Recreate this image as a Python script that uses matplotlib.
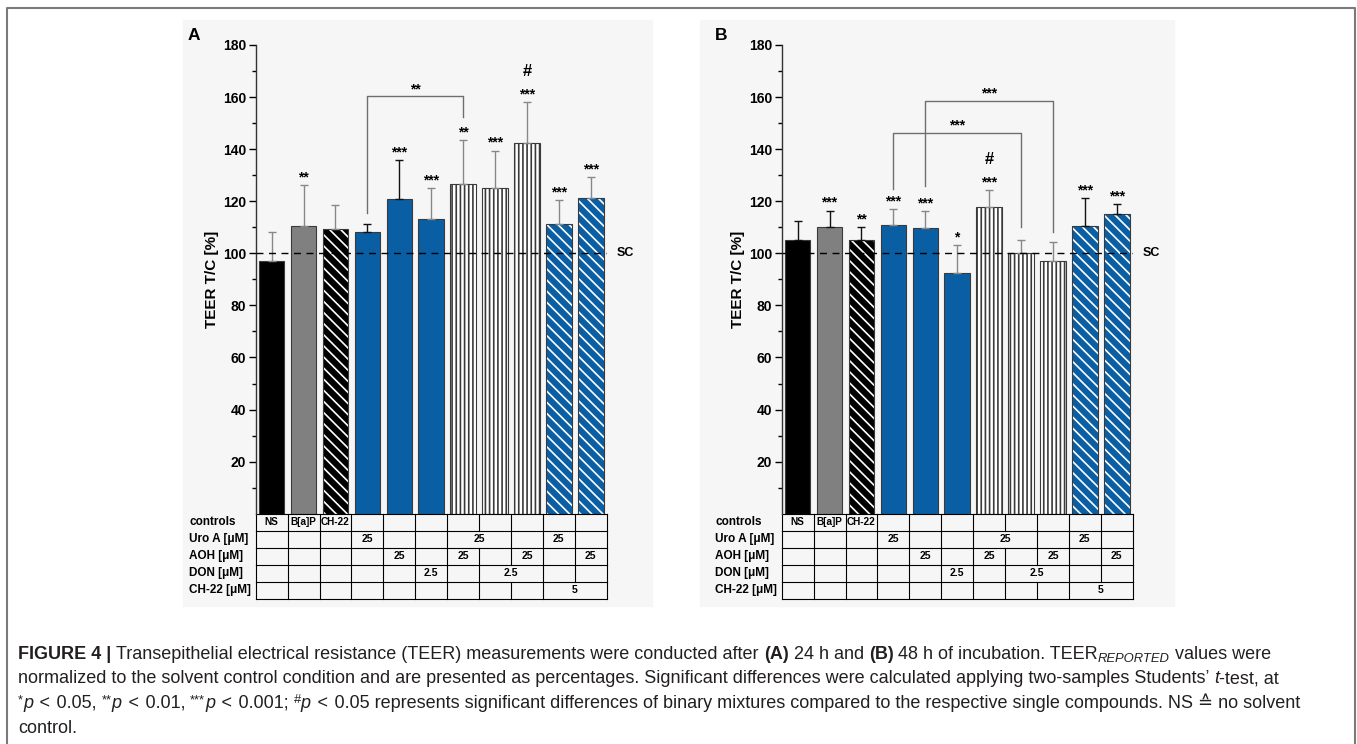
import matplotlib
matplotlib.use('agg')
from matplotlib import pyplot as plt
from matplotlib.patches import Rectangle
from matplotlib.lines import Line2D
from matplotlib.font_manager import FontProperties
import numpy as np

plt.rcParams['font.family'] = ['Liberation Sans', 'DejaVu Sans']
plt.rcParams['hatch.linewidth'] = 1.2

# ---- data ----
groups = ['NS', 'B[a]P', 'CH-22', 'Uro A', 'AOH', 'DON',
          'Uro A + AOH', 'Uro A + DON', 'AOH + DON', 'Uro A + CH-22', 'AOH + CH-22']

# (A) 24 h
teer_a = [97.0, 110.3, 109.3, 108.0, 121.0, 113.0, 126.7, 125.0, 142.2, 111.3, 121.3]
sd_a = [11.2, 15.9, 9.2, 3.4, 14.8, 12.0, 16.7, 14.4, 15.8, 9.1, 8.0]
stars_a = ['', '**', '', '', '***', '***', '**', '***', '***', '***', '***']
hash_a = [8]
# (x_from, x_to, y_from, y_to, y_top, label)
brackets_a = [(3, 6, 115.4, 152.4, 160.3, '**')]

# (B) 48 h
teer_b = [105.2, 110.0, 105.0, 111.0, 109.6, 92.6, 117.9, 100.2, 96.9, 110.6, 115.0]
sd_b = [7.3, 6.4, 5.0, 5.9, 6.6, 10.6, 6.3, 4.9, 7.3, 10.5, 3.8]
stars_b = ['', '***', '**', '***', '***', '*', '***', '', '', '***', '***']
hash_b = [6]
brackets_b = [(3, 7, 124.7, 110.0, 146.3, '***'),
              (4, 8, 126.0, 108.3, 158.6, '***')]

# table under the bars
row_names = ['controls', 'Uro A [μM]', 'AOH [μM]', 'DON [μM]', 'CH-22 [μM]']
# merged cells: (first column, last column, text)
row_cells = [
    [(0, 0, 'NS'), (1, 1, 'B[a]P'), (2, 2, 'CH-22')],
    [(3, 3, '25'), (6, 7, '25'), (9, 9, '25')],
    [(4, 4, '25'), (6, 6, '25'), (8, 8, '25'), (10, 10, '25')],
    [(5, 5, '2.5'), (7, 8, '2.5')],
    [(9, 10, '5')],
]

# ---- styles ----
W, H = 1357, 744
BLUE = '#0a5fa4'
bar_face = ['black', '#808080', 'black', BLUE, BLUE, BLUE,
            'white', 'white', 'white', BLUE, BLUE]
bar_hatch = [None, None, '\\\\\\', None, None, None,
             '||||', '||||', '||||', '\\\\\\', '\\\\\\']
err_dark_a = [3, 4]
err_dark_b = [0, 1, 2, 9, 10]


def fig_xy(x, y):
    return x / W, 1 - y / H


fig = plt.figure(figsize=(W / 100, H / 100), dpi=100)

# faint grey background behind each panel, and the outer frame
for x0, x1 in [(183, 652), (700, 1174)]:
    fig.patches.append(Rectangle(fig_xy(x0, 606), (x1 - x0) / W, (606 - 20) / H,
                                 transform=fig.transFigure, color='#f6f6f6', zorder=-5))
fig.lines.append(Line2D([7 / W, 7 / W, 1355 / W, 1355 / W], [0, 1 - 8 / H, 1 - 8 / H, 0],
                        transform=fig.transFigure, color='#7a7a7a', lw=1.5, zorder=-4))

row_h = 17.06 * 180 / 468.7
ncol = len(groups)


def draw_panel(left_px, letter, teer, sd, stars, hashes, err_dark, brackets):
    ax = fig.add_axes([left_px / W, 1 - 513.7 / H, 351 / W, 468.7 / H])
    ax.set_facecolor('none')
    ax.set_zorder(2)
    x = np.arange(ncol)
    for i in x:
        hatch = bar_hatch[i]
        if hatch is not None and bar_face[i] != 'white':
            ax.bar(i, teer[i], width=0.8, color=bar_face[i], edgecolor='white',
                   hatch=hatch, linewidth=0, zorder=2)
            ax.bar(i, teer[i], width=0.8, facecolor='none', edgecolor='#3a3a3a',
                   linewidth=0.8, zorder=2)
        else:
            ax.bar(i, teer[i], width=0.8, color=bar_face[i], edgecolor='#3a3a3a',
                   hatch=hatch, linewidth=0.8, zorder=2)
        ec = '#111111' if i in err_dark else '#888888'
        ax.errorbar(i, teer[i], yerr=[[0], [sd[i]]], fmt='none', ecolor=ec,
                    elinewidth=1, capsize=3, capthick=1, zorder=3)
        if stars[i]:
            ax.text(i, teer[i] + sd[i] + 1.5, stars[i], ha='center', va='baseline',
                    fontsize=10, fontweight='bold')
        if i in hashes:
            ax.text(i, teer[i] + sd[i] + 10, '#', ha='center', va='baseline',
                    fontsize=12, fontweight='bold')

    for x0, x1, y0, y1, yt, lab in brackets:
        ax.plot([x0, x0, x1, x1], [y0, yt, yt, y1], color='#6e6e6e', lw=1, zorder=3)
        ax.text((x0 + x1) / 2, yt + 1.2, lab, ha='center', va='baseline',
                fontsize=10, fontweight='bold')

    ax.axhline(100, color='black', lw=1, ls=(0, (5, 4)), zorder=4)
    ax.text(10.82, 100, 'SC', ha='left', va='center', fontsize=9, fontweight='bold')

    ax.set_xlim(-0.5, 10.5)
    ax.set_ylim(0, 180)
    ax.set_xticks([])
    ax.set_yticks(np.arange(20, 181, 20))
    ax.set_yticks(np.arange(10, 180, 20), minor=True)
    ax.tick_params(axis='y', which='major', length=5, width=1, pad=2, labelsize=10)
    ax.tick_params(axis='y', which='minor', length=3, width=1)
    for lab in ax.get_yticklabels():
        lab.set_fontweight('bold')
    for s in ['top', 'right', 'bottom']:
        ax.spines[s].set_visible(False)
    ax.spines['left'].set_linewidth(1)
    ax.spines['left'].set_color('#333333')
    ax.set_ylabel('TEER T/C [%]', fontsize=11, fontweight='bold')
    ax.yaxis.set_label_coords(-0.105, 0.5)

    # table
    for r, name in enumerate(row_names):
        ytop, ybot = -r * row_h, -(r + 1) * row_h
        ymid = (ytop + ybot) / 2
        ax.text(-2.59, ymid, name, ha='left', va='center', fontsize=8.5,
                fontweight='bold', clip_on=False)
        inner = set()
        for c0, c1, txt in row_cells[r]:
            inner.update(range(c0 + 1, c1 + 1))
            fs = 7.2 if r == 0 else 7.5
            ax.text((c0 + c1) / 2, ymid, txt, ha='center', va='center', fontsize=fs,
                    fontweight='bold', clip_on=False)
        for k in range(ncol + 1):
            if k not in inner:
                ax.plot([k - 0.5, k - 0.5], [ytop, ybot], color='black', lw=0.8,
                        clip_on=False)
    for r in range(len(row_names) + 1):
        ax.plot([-0.5, 10.5], [-r * row_h, -r * row_h], color='black', lw=0.8,
                clip_on=False)

    fig.text(*fig_xy(left_px - 68 + (0 if letter == 'A' else 1), 35), letter,
             ha='left', va='center', fontsize=12.5, fontweight='bold')
    return ax


draw_panel(255.7, 'A', teer_a, sd_a, stars_a, hash_a, err_dark_a, brackets_a)
draw_panel(781.7, 'B', teer_b, sd_b, stars_b, hash_b, err_dark_b, brackets_b)

# ---- caption, laid out piece by piece ----
renderer = fig.canvas.get_renderer()
cap_size = 13.0
fams = ['Liberation Sans', 'DejaVu Sans']
lt = ' \u200a<\u200a '


def piece_width(s, prop):
    w1 = renderer.get_text_width_height_descent('I' + s + 'I', prop, False)[0]
    w2 = renderer.get_text_width_height_descent('II', prop, False)[0]
    return w1 - w2


def caption_line(y_px, parts):
    x = 18.0
    for txt, style in parts:
        size = cap_size * (0.72 if style in ('sub', 'sup') else 1)
        weight = 'bold' if style == 'bold' else 'normal'
        fstyle = 'italic' if style in ('it', 'sub') else 'normal'
        dy = {'sub': -3.5, 'sup': 5}.get(style, 0)
        prop = FontProperties(family=fams, size=size, weight=weight, style=fstyle)
        fig.text(*fig_xy(x, y_px - dy), txt, fontproperties=prop, ha='left',
                 va='baseline', color='#231f20')
        x += piece_width(txt, prop)


caption_line(659, [
    ('FIGURE 4 | ', 'bold'),
    ('Transepithelial electrical resistance (TEER) measurements were conducted after ', ''),
    ('(A)', 'bold'), (' 24 h and ', ''), ('(B)', 'bold'),
    (' 48 h of incubation. TEER', ''), ('REPORTED', 'sub'), (' values were', ''),
])
caption_line(683, [
    ('normalized to the solvent control condition and are presented as percentages. '
     'Significant differences were calculated applying two-samples Students\u2019 ', ''),
    ('t', 'it'), ('-test, at', ''),
])
caption_line(708, [
    ('*', 'sup'), ('p', 'it'), (lt + '0.05, ', ''),
    ('**', 'sup'), ('p', 'it'), (lt + '0.01, ', ''),
    ('***', 'sup'), ('p', 'it'), (lt + '0.001; ', ''),
    ('#', 'sup'), ('p', 'it'),
    (lt + '0.05 represents significant differences of binary mixtures compared to the '
     'respective single compounds. NS \u2259 no solvent', ''),
])
caption_line(733, [('control.', '')])

fig.savefig('out.png', dpi=100)
